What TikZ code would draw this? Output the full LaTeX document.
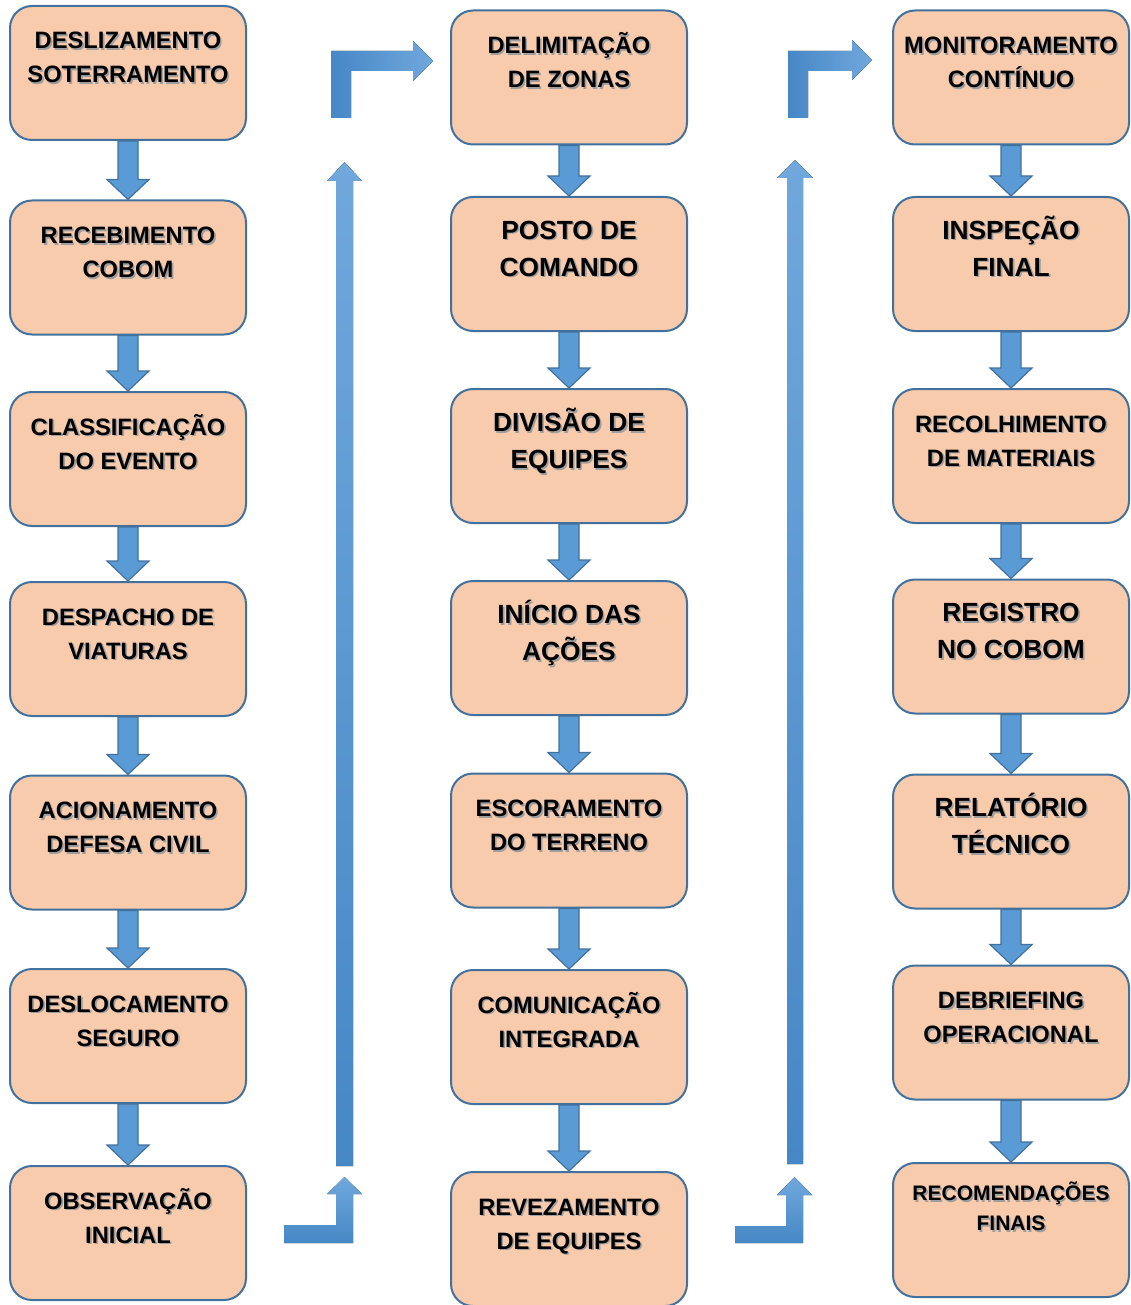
\documentclass[tikz,border=0pt]{standalone}
\usepackage{fontspec}
\setmainfont{Liberation Sans}
\usetikzlibrary{positioning,calc}

\definecolor{boxfill}{HTML}{F8CBAD}
\definecolor{boxline}{HTML}{41719C}
\definecolor{arrowfill}{HTML}{5B9BD5}
\definecolor{arrowdark}{HTML}{4687C6}
\definecolor{arrowlight}{HTML}{70A8DC}
\definecolor{textshadow}{gray}{0.62}

% two lines of a step, with a soft shadow behind
\newcommand{\steplines}[1]{%
  \rlap{\hspace{1.6pt}\raisebox{-1.6pt}{\color{textshadow}\begin{tabular}[t]{@{}c@{}}#1\end{tabular}}}%
  \begin{tabular}[t]{@{}c@{}}#1\end{tabular}}

\tikzset{
  stepbox/.style={draw=boxline, fill=boxfill, line width=2pt, rounded corners=22pt,
    minimum width=236pt, inner sep=0pt, text height=43pt, text depth=91pt,
    font=\fontsize{23.7pt}{34pt}\selectfont\bfseries},
  bigtext/.style={text height=42.4pt, text depth=91.6pt,
    font=\fontsize{26.3pt}{37pt}\selectfont\bfseries},
  smalltext/.style={text height=37.5pt, text depth=96.5pt,
    font=\fontsize{21pt}{30pt}\selectfont\bfseries},
  downarrow/.style={draw=boxline, fill=arrowfill, line width=1.2pt,
    to path={($(\tikztostart)+(-10,0)$) -- ($(\tikztotarget)+(-10,-20)$)
      -- ($(\tikztotarget)+(-21,-20)$) -- (\tikztotarget)
      -- ($(\tikztotarget)+(21,-20)$) -- ($(\tikztotarget)+(10,-20)$)
      -- ($(\tikztostart)+(10,0)$) -- cycle}}
}

\begin{document}
\begin{tikzpicture}[x=1pt,y=-1pt,on grid]
\useasboundingbox (0,0) rectangle (1131,1305);
% first column
\node[stepbox] (a1) at (128,73) {\steplines{DESLIZAMENTO\\SOTERRAMENTO}};
\node[stepbox] (a2) [below=194.5pt of a1] {\steplines{RECEBIMENTO\\COBOM}};
\node[stepbox] (a3) [below=191.5pt of a2] {\steplines{CLASSIFICAÇÃO\\DO EVENTO}};
\node[stepbox] (a4) [below=190pt of a3] {\steplines{DESPACHO DE\\VIATURAS}};
\node[stepbox] (a5) [below=193.5pt of a4] {\steplines{ACIONAMENTO\\DEFESA CIVIL}};
\node[stepbox] (a6) [below=193.5pt of a5] {\steplines{DESLOCAMENTO\\SEGURO}};
\node[stepbox] (a7) [below=197pt of a6] {\steplines{OBSERVAÇÃO\\INICIAL}};
% second column
\node[stepbox] (b1) [right=441pt of a1,yshift=-4.5pt] {\steplines{DELIMITAÇÃO\\DE ZONAS}};
\node[stepbox,bigtext] (b2) [below=186.5pt of b1] {\steplines{POSTO DE\\COMANDO}};
\node[stepbox,bigtext] (b3) [below=192pt of b2] {\steplines{DIVISÃO DE\\EQUIPES}};
\node[stepbox,bigtext] (b4) [below=192pt of b3] {\steplines{INÍCIO DAS\\AÇÕES}};
\node[stepbox] (b5) [below=192.5pt of b4] {\steplines{ESCORAMENTO\\DO TERRENO}};
\node[stepbox] (b6) [below=196.5pt of b5] {\steplines{COMUNICAÇÃO\\INTEGRADA}};
\node[stepbox] (b7) [below=202pt of b6] {\steplines{REVEZAMENTO\\DE EQUIPES}};
% third column
\node[stepbox] (c1) [right=442pt of b1] {\steplines{MONITORAMENTO\\CONTÍNUO}};
\node[stepbox,bigtext] (c2) [below=186.5pt of c1] {\steplines{INSPEÇÃO\\FINAL}};
\node[stepbox] (c3) [below=192pt of c2] {\steplines{RECOLHIMENTO\\DE MATERIAIS}};
\node[stepbox,bigtext] (c4) [below=190.5pt of c3] {\steplines{REGISTRO\\NO COBOM}};
\node[stepbox,bigtext] (c5) [below=195pt of c4] {\steplines{RELATÓRIO\\TÉCNICO}};
\node[stepbox] (c6) [below=191pt of c5] {\steplines{DEBRIEFING\\OPERACIONAL}};
\node[stepbox,smalltext] (c7) [below=197.5pt of c6] {\steplines{RECOMENDAÇÕES\\FINAIS}};
\path
  (a1.south) edge[downarrow] (a2.north)
  (a2.south) edge[downarrow] (a3.north)
  (a3.south) edge[downarrow] (a4.north)
  (a4.south) edge[downarrow] (a5.north)
  (a5.south) edge[downarrow] (a6.north)
  (a6.south) edge[downarrow] (a7.north)
  (b1.south) edge[downarrow] (b2.north)
  (b2.south) edge[downarrow] (b3.north)
  (b3.south) edge[downarrow] (b4.north)
  (b4.south) edge[downarrow] (b5.north)
  (b5.south) edge[downarrow] (b6.north)
  (b6.south) edge[downarrow] (b7.north)
  (c1.south) edge[downarrow] (c2.north)
  (c2.south) edge[downarrow] (c3.north)
  (c3.south) edge[downarrow] (c4.north)
  (c4.south) edge[downarrow] (c5.north)
  (c5.south) edge[downarrow] (c6.north)
  (c6.south) edge[downarrow] (c7.north);
% block arrows from one column to the next
\fill[top color=arrowlight, bottom color=arrowdark]
  (284,1225) -- (336,1225) -- (336,1194) -- (327,1194) -- (344.5,1177)
  -- (362,1194) -- (353,1194) -- (353,1243) -- (284,1243) -- cycle;
\fill[top color=arrowlight, bottom color=arrowdark]
  (336,1166) -- (336,181) -- (327,181) -- (344.5,162) -- (362,181)
  -- (353,181) -- (353,1166) -- cycle;
\fill[left color=arrowdark, right color=arrowlight]
  (331,118) -- (331,51) -- (413,51) -- (413,41) -- (433,61)
  -- (413,81) -- (413,71) -- (351,71) -- (351,118) -- cycle;
\fill[top color=arrowlight, bottom color=arrowdark]
  (735,1226) -- (786,1226) -- (786,1195) -- (777,1195) -- (794.5,1177)
  -- (812,1195) -- (803,1195) -- (803,1243) -- (735,1243) -- cycle;
\fill[top color=arrowlight, bottom color=arrowdark]
  (787,1164) -- (787,178) -- (777,178) -- (795,160) -- (813,178)
  -- (803,178) -- (803,1164) -- cycle;
\fill[left color=arrowdark, right color=arrowlight]
  (788,118) -- (788,51) -- (852,51) -- (852,40) -- (872,60)
  -- (852,80) -- (852,71) -- (808,71) -- (808,118) -- cycle;
\end{tikzpicture}
\end{document}
